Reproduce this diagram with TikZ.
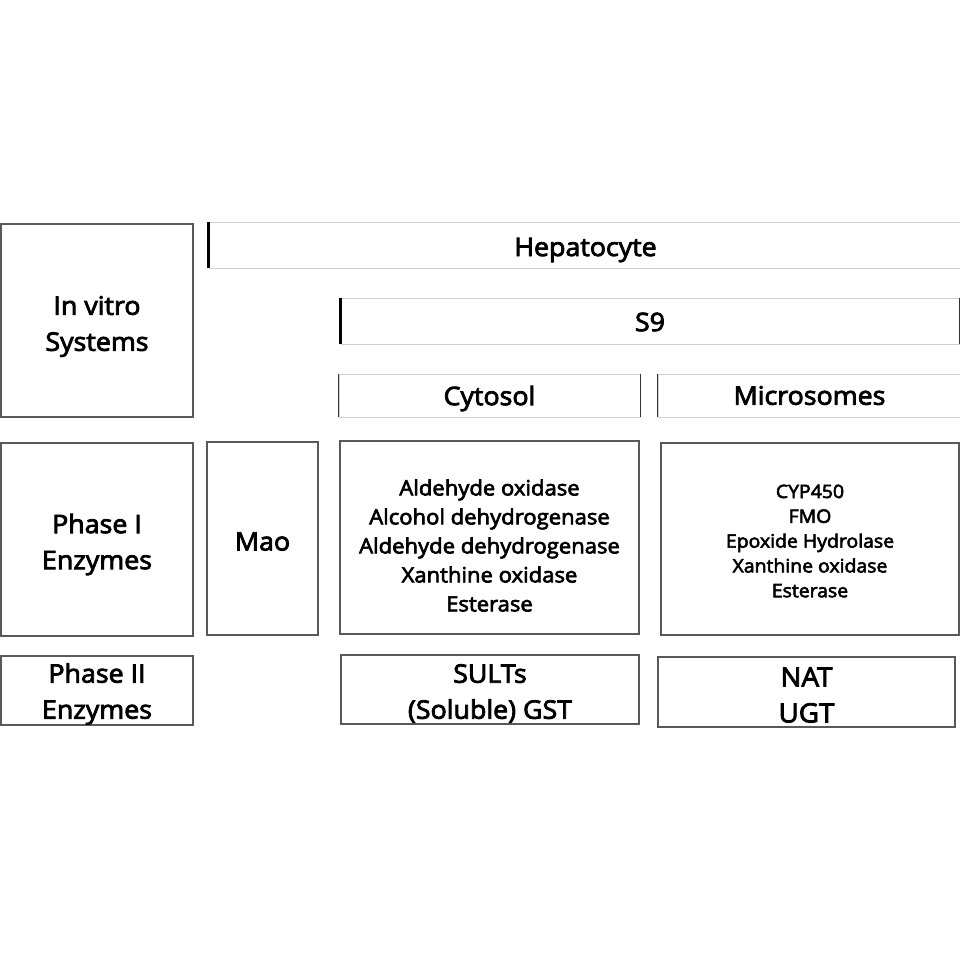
\documentclass[tikz,border=0pt]{standalone}
\usepackage{fontspec}
\setmainfont{Open Sans}[FakeBold=3.2, FakeStretch=1.05]
\begin{document}
\begin{tikzpicture}[
		x=1pt, y=-1pt,
		caja/.style={draw=black!65, line width=1.2pt, inner sep=0pt},
		banda/.style={draw=black!18, line width=0.8pt, inner sep=0pt},
		barra/.style={draw=black, line width=2.6pt},
		filo/.style={draw=black!80, line width=1.2pt},
		texto/.style={align=center, inner sep=0pt},
		grande/.style={texto, font=\fontsize{25.5}{36}\selectfont},
		media/.style={texto, font=\fontsize{21}{29}\selectfont},
		chica/.style={texto, font=\fontsize{18.5}{24.8}\selectfont}
	]
	\useasboundingbox[fill=white] (0,0) rectangle (960,960);
	% Sistemas in vitro
	\node[caja, minimum width=192pt, minimum height=193pt] (sis) at (97,320.5) {};
	\node[banda, minimum width=753pt, minimum height=46pt] (hep) at (585.5,245) {};
	\node[banda, minimum width=618pt, minimum height=46pt] (s9) at (650,321) {};
	\node[banda, minimum width=301pt, minimum height=43pt] (cit) at (489.5,395.5) {};
	\node[banda, minimum width=303pt, minimum height=43pt] (mic) at (809.5,395.5) {};
	\node[grande] (sis-t) at ([yshift=-6pt]sis.center) {In vitro\\Systems};
	\node[grande] (hep-t) at ([yshift=-5pt]hep.center) {Hepatocyte};
	\node[grande] (s9-t) at ([yshift=-1pt]s9.center) {S9};
	\node[grande] (cit-t) at ([yshift=-3pt]cit.center) {Cytosol};
	\node[grande] (mic-t) at (mic.center) {Microsomes};
	% Bordes oscuros
	\draw[barra] (hep.north west) -- (hep.south west);
	\draw[barra] (s9.north west) -- (s9.south west);
	\draw[filo] (s9.north east) -- (s9.south east);
	\draw[filo] (cit.north west) -- (cit.south west);
	\draw[filo] (cit.north east) -- (cit.south east);
	\draw[filo] (mic.north west) -- (mic.south west);
	% Enzimas de fase I
	\node[caja, minimum width=192pt, minimum height=193pt] (fase1) at (97,539.5) {};
	\node[caja, minimum width=111pt, minimum height=193pt] (mao) at (262.5,538.5) {};
	\node[caja, minimum width=299pt, minimum height=193pt] (citenz) at (489.5,537.5) {};
	\node[caja, minimum width=298pt, minimum height=192pt] (micenz) at (810,539) {};
	\node[grande] (fase1-t) at ([yshift=-5pt]fase1.center) {Phase I\\Enzymes};
	\node[grande] (mao-t) at ([yshift=-3pt]mao.center) {Mao};
	\node[media] (citenz-t) at ([yshift=-8pt]citenz.center)
		{Aldehyde oxidase\\Alcohol dehydrogenase\\Aldehyde dehydrogenase\\Xanthine oxidase\\Esterase};
	\node[chica] (micenz-t) at ([yshift=-2pt]micenz.center)
		{CYP450\\FMO\\Epoxide Hydrolase\\Xanthine oxidase\\Esterase};
	% Enzimas de fase II
	\node[caja, minimum width=192pt, minimum height=69pt] (fase2) at (97,690.5) {};
	\node[caja, minimum width=298pt, minimum height=69pt] (sult) at (490,689.5) {};
	\node[caja, minimum width=297pt, minimum height=70pt] (nat) at (806.5,692) {};
	\node[grande] (fase2-t) at ([yshift=-3.5pt]fase2.center) {Phase II\\Enzymes};
	\node[grande] (sult-t) at ([yshift=-4pt]sult.center) {SULTs\\(Soluble) GST};
	\node[grande, font=\fontsize{26.5}{36}\selectfont] (nat-t) at ([yshift=-3pt]nat.center) {NAT\\UGT};
\end{tikzpicture}
\end{document}
